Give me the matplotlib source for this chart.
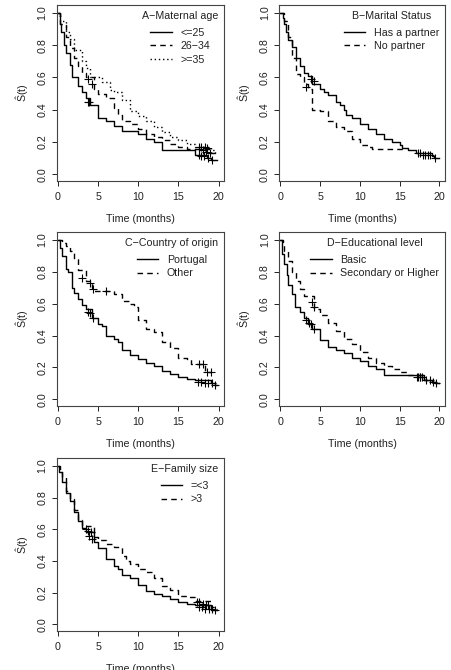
import numpy as np
import matplotlib.pyplot as plt

plt.rcParams['font.family'] = ['Liberation Sans', 'DejaVu Sans']
plt.rcParams['mathtext.fontset'] = 'custom'
plt.rcParams['mathtext.rm'] = 'Liberation Sans'

# ---- data ----
# A - maternal age
a1_t = [0, 0.3, 0.4, 0.7, 1.0, 1.5, 1.7, 2.5, 3.0, 3.5, 4.0, 5.0, 6.0, 7.0, 8.0, 10.0, 11.0, 12.0, 13.0, 17.0, 18.5, 19.0, 19.8]
a1_s = [1, 0.93, 0.88, 0.80, 0.75, 0.68, 0.60, 0.55, 0.51, 0.47, 0.43, 0.35, 0.33, 0.30, 0.27, 0.25, 0.22, 0.20, 0.15, 0.12, 0.10, 0.09, 0.09]
a1_ct = [3.7, 3.9, 17.5, 17.8, 18.2, 18.7, 19.2]
a1_cs = [0.45, 0.45, 0.12, 0.11, 0.11, 0.10, 0.09]

a2_t = [0, 0.3, 1.0, 1.5, 2.0, 2.5, 3.0, 3.5, 4.5, 5.0, 6.0, 7.0, 7.5, 8.0, 9.0, 10.0, 11.0, 12.0, 13.0, 14.0, 15.0, 16.0, 19.0, 19.5, 19.8]
a2_s = [1, 0.93, 0.85, 0.78, 0.72, 0.67, 0.63, 0.60, 0.53, 0.50, 0.47, 0.41, 0.37, 0.33, 0.31, 0.28, 0.25, 0.23, 0.21, 0.19, 0.17, 0.155, 0.13, 0.12, 0.12]
a2_ct = [3.8, 4.2, 17.6, 18.0, 18.4, 18.9]
a2_cs = [0.59, 0.56, 0.155, 0.15, 0.14, 0.13]

a3_t = [0, 0.3, 1.0, 1.5, 2.0, 3.0, 3.5, 4.0, 5.5, 6.5, 7.0, 8.0, 9.0, 10.0, 11.0, 12.0, 13.0, 14.0, 15.0, 16.0, 17.0, 19.0, 19.5, 19.8]
a3_s = [1, 0.95, 0.88, 0.84, 0.77, 0.70, 0.66, 0.60, 0.57, 0.52, 0.51, 0.46, 0.39, 0.36, 0.33, 0.29, 0.26, 0.23, 0.21, 0.19, 0.17, 0.15, 0.13, 0.13]
a3_ct = [17.5, 17.8, 18.3, 18.6]
a3_cs = [0.17, 0.17, 0.17, 0.16]

# B - marital status
b1_t = [0, 0.3, 0.5, 0.7, 1.0, 1.5, 2.0, 2.5, 3.0, 3.5, 4.0, 5.0, 5.5, 6.0, 7.0, 7.5, 8.0, 8.2, 9.0, 10.0, 11.0, 12.0, 13.0, 14.0, 15.0, 15.3, 16.0, 17.0, 19.0, 19.3, 20.0]
b1_s = [1, 0.97, 0.93, 0.88, 0.83, 0.79, 0.72, 0.67, 0.63, 0.61, 0.56, 0.53, 0.51, 0.49, 0.45, 0.43, 0.40, 0.37, 0.35, 0.31, 0.28, 0.25, 0.22, 0.20, 0.18, 0.16, 0.15, 0.13, 0.11, 0.10, 0.10]
b1_ct = [3.9, 4.2, 17.3, 17.6, 17.9, 18.2, 18.5, 18.8, 19.5]
b1_cs = [0.59, 0.58, 0.13, 0.13, 0.12, 0.12, 0.12, 0.12, 0.10]

b2_t = [0, 0.5, 1.0, 1.5, 2.0, 2.5, 3.0, 3.5, 4.0, 5.0, 6.0, 7.0, 8.0, 9.0, 10.0, 11.0, 11.5, 15.5]
b2_s = [1, 0.95, 0.85, 0.72, 0.62, 0.60, 0.56, 0.53, 0.40, 0.39, 0.33, 0.29, 0.27, 0.22, 0.18, 0.17, 0.155, 0.155]
b2_ct = [3.2]
b2_cs = [0.54]

# C - country of origin
c1_t = [0, 0.3, 0.5, 1.0, 1.3, 1.7, 2.0, 2.5, 3.0, 3.5, 4.2, 5.0, 5.5, 6.0, 7.0, 7.5, 8.0, 9.0, 10.0, 11.0, 12.0, 13.0, 14.0, 15.0, 16.0, 17.0, 19.0, 19.5, 19.8]
c1_s = [1, 0.95, 0.90, 0.82, 0.80, 0.70, 0.67, 0.63, 0.59, 0.57, 0.51, 0.47, 0.46, 0.40, 0.38, 0.36, 0.31, 0.28, 0.25, 0.23, 0.21, 0.18, 0.16, 0.14, 0.13, 0.12, 0.10, 0.09, 0.09]
c1_ct = [3.8, 4.0, 4.4, 17.4, 17.8, 18.3, 18.7, 19.2, 19.6]
c1_cs = [0.55, 0.54, 0.51, 0.11, 0.11, 0.10, 0.10, 0.10, 0.09]

c2_t = [0, 0.5, 1.0, 1.5, 2.0, 2.5, 3.5, 4.2, 4.5, 7.0, 8.0, 9.0, 9.5, 10.0, 11.0, 12.0, 13.0, 14.0, 15.0, 16.0, 16.5, 18.3, 19.0]
c2_s = [1, 0.98, 0.96, 0.93, 0.88, 0.81, 0.74, 0.70, 0.68, 0.66, 0.62, 0.60, 0.58, 0.50, 0.44, 0.42, 0.36, 0.32, 0.26, 0.25, 0.22, 0.17, 0.17]
c2_ct = [3.0, 4.0, 4.4, 6.0, 17.5, 18.0, 18.5, 19.0]
c2_cs = [0.76, 0.73, 0.69, 0.68, 0.22, 0.22, 0.17, 0.17]

# D - educational level
d1_t = [0, 0.2, 0.5, 0.8, 1.0, 1.5, 1.8, 2.5, 3.0, 3.5, 4.0, 5.0, 6.0, 7.0, 8.0, 9.0, 10.0, 11.0, 12.0, 13.0, 18.0, 19.0, 19.5, 20.0]
d1_s = [1, 0.91, 0.85, 0.78, 0.72, 0.66, 0.58, 0.55, 0.51, 0.47, 0.44, 0.37, 0.33, 0.31, 0.29, 0.26, 0.24, 0.21, 0.19, 0.15, 0.12, 0.11, 0.10, 0.10]
d1_ct = [3.3, 3.6, 3.9, 4.3, 17.2, 17.5, 17.8, 18.3, 18.8, 19.2, 19.6]
d1_cs = [0.50, 0.48, 0.47, 0.44, 0.14, 0.14, 0.14, 0.12, 0.12, 0.11, 0.10]

d2_t = [0, 0.3, 0.5, 1.0, 1.5, 2.0, 2.5, 3.0, 4.3, 5.0, 6.0, 7.0, 8.0, 9.0, 10.0, 11.0, 12.0, 13.0, 14.0, 15.0, 16.0, 18.0, 19.0, 19.5, 20.0]
d2_s = [1, 0.97, 0.93, 0.87, 0.80, 0.74, 0.69, 0.65, 0.57, 0.53, 0.48, 0.43, 0.38, 0.35, 0.30, 0.26, 0.23, 0.21, 0.19, 0.17, 0.15, 0.12, 0.11, 0.10, 0.10]
d2_ct = [4.0, 4.3, 17.3, 17.6]
d2_cs = [0.61, 0.58, 0.14, 0.14]

# E - family size
e1_t = [0, 0.2, 0.5, 1.0, 1.5, 2.0, 2.5, 3.0, 3.5, 4.5, 5.0, 6.0, 7.0, 7.5, 8.0, 9.0, 10.0, 11.0, 12.0, 13.0, 14.0, 15.0, 16.0, 17.0, 19.0, 19.8]
e1_s = [1, 0.96, 0.90, 0.83, 0.78, 0.71, 0.65, 0.61, 0.58, 0.52, 0.48, 0.41, 0.37, 0.35, 0.31, 0.29, 0.25, 0.21, 0.19, 0.18, 0.16, 0.14, 0.13, 0.12, 0.09, 0.09]
e1_ct = [3.9, 4.2, 17.5, 17.9, 18.3, 18.8, 19.2, 19.6]
e1_cs = [0.56, 0.54, 0.11, 0.11, 0.10, 0.10, 0.10, 0.09]

e2_t = [0, 0.3, 0.5, 1.0, 1.5, 2.0, 2.5, 3.0, 4.5, 5.0, 6.0, 7.0, 8.0, 8.5, 9.0, 10.0, 11.0, 12.0, 13.0, 14.0, 15.0, 16.0, 17.0, 19.0, 19.5, 19.8]
e2_s = [1, 0.96, 0.93, 0.84, 0.79, 0.72, 0.66, 0.62, 0.55, 0.53, 0.51, 0.49, 0.43, 0.40, 0.38, 0.35, 0.33, 0.29, 0.24, 0.22, 0.18, 0.17, 0.15, 0.11, 0.10, 0.10]
e2_ct = [3.5, 3.8, 4.1, 17.3, 17.6, 18.0, 18.4, 18.7]
e2_cs = [0.60, 0.59, 0.58, 0.14, 0.14, 0.13, 0.12, 0.12]

panels = [
    ('A\u2212Maternal age',
     [(a1_t, a1_s, a1_ct, a1_cs, '<=25', '-'),
      (a2_t, a2_s, a2_ct, a2_cs, '26\u221234', (0, (4, 3))),
      (a3_t, a3_s, a3_ct, a3_cs, '>=35', (0, (1, 2)))]),
    ('B\u2212Marital Status',
     [(b1_t, b1_s, b1_ct, b1_cs, 'Has a partner', '-'),
      (b2_t, b2_s, b2_ct, b2_cs, 'No partner', (0, (4, 3)))]),
    ('C\u2212Country of origin',
     [(c1_t, c1_s, c1_ct, c1_cs, 'Portugal', '-'),
      (c2_t, c2_s, c2_ct, c2_cs, 'Other', (0, (4, 3)))]),
    ('D\u2212Educational level',
     [(d1_t, d1_s, d1_ct, d1_cs, 'Basic', '-'),
      (d2_t, d2_s, d2_ct, d2_cs, 'Secondary or Higher', (0, (4, 3)))]),
    ('E\u2212Family size',
     [(e1_t, e1_s, e1_ct, e1_cs, '=<3', '-'),
      (e2_t, e2_s, e2_ct, e2_cs, '>3', (0, (4, 3)))]),
]

# axes boxes in figure fractions (left, bottom, width, height)
boxes = [
    (0.1254, 0.7299, 0.3708, 0.2627),
    (0.6173, 0.7299, 0.3673, 0.2627),
    (0.1254, 0.3940, 0.3708, 0.2597),
    (0.6173, 0.3940, 0.3673, 0.2597),
    (0.1254, 0.0582, 0.3708, 0.2582),
]

fs = 7.7
ink = '#222222'
fig = plt.figure(figsize=(4.52, 6.70), dpi=100)

for (title, curves), box in zip(panels, boxes):
    ax = fig.add_axes(box)
    for t, s, ct, cs, lab, ls in curves:
        ax.step(t, s, where='post', color='black', lw=1.0, linestyle=ls, label=lab)
        ax.plot(ct, cs, linestyle='none', marker='+', color='black',
                markersize=5.5, markeredgewidth=0.8)
    ax.set_xlim(-0.15, 20.7)
    ax.set_ylim(-0.042, 1.05)
    ax.set_xticks([0, 5, 10, 15, 20])
    ax.set_yticks([0, 0.2, 0.4, 0.6, 0.8, 1.0])
    ax.set_yticklabels(['0.0', '0.2', '0.4', '0.6', '0.8', '1.0'],
                       rotation=90, va='center')
    ax.tick_params(direction='out', length=3.6, width=0.7, colors=ink,
                   labelsize=fs)
    ax.tick_params(axis='x', pad=4)
    ax.tick_params(axis='y', pad=3)
    for sp in ax.spines.values():
        sp.set_linewidth(0.8)
        sp.set_color('#444444')
    ax.set_xlabel('Time (months)', fontsize=fs, color=ink, labelpad=9)
    ax.set_ylabel(r'$\mathrm{\hat{S}(t)}$', fontsize=fs, color=ink, labelpad=5)
    leg = ax.legend(title=title, loc='upper right', frameon=False,
                    fontsize=fs, title_fontsize=fs, handlelength=2.0,
                    handletextpad=0.8, labelspacing=0.32, borderpad=0.5,
                    borderaxespad=0.05)
    leg._legend_box.sep = 5
    for txt in leg.get_texts():
        txt.set_color(ink)
    leg.get_title().set_color(ink)

fig.savefig('out.png', dpi=100)
